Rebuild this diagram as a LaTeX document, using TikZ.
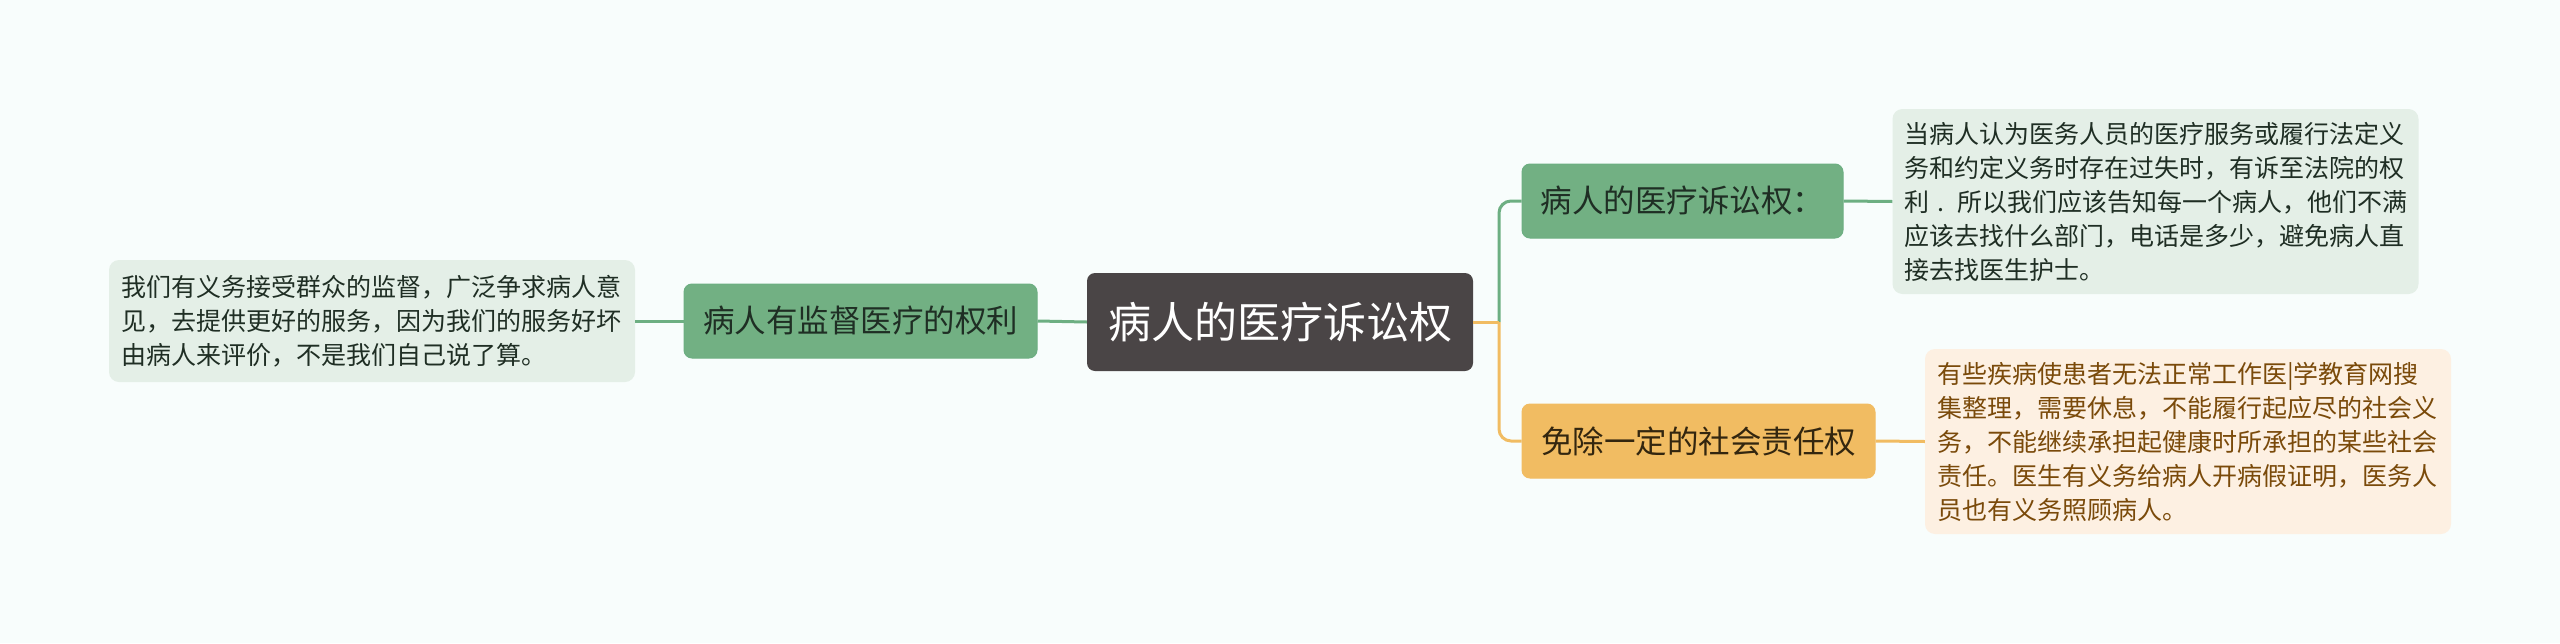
\documentclass[tikz,border=0pt]{standalone}
\usepackage{fontspec}
\setmainfont{Noto Sans CJK SC}
\definecolor{bg}{HTML}{F8FDFC}
\definecolor{rootfill}{HTML}{4A4546}
\definecolor{gnode}{HTML}{72B083}
\definecolor{gline}{HTML}{6DAF82}
\definecolor{gleaf}{HTML}{E4EFE7}
\definecolor{gtext}{HTML}{1F2E24}
\definecolor{onode}{HTML}{F1BC62}
\definecolor{oleaf}{HTML}{FDF0E2}
\definecolor{otext}{HTML}{7A4A0A}
\definecolor{ontext}{HTML}{33260F}
\begin{document}
\begin{tikzpicture}[x=1pt,y=-1pt,
  rootbox/.style={fill=rootfill, rounded corners=8pt, minimum width=386pt, minimum height=98pt, inner sep=0pt, text=white, font=\fontsize{43}{50}\selectfont},
  gbranch/.style={fill=gnode, draw=gline, line width=1pt, rounded corners=8pt, inner sep=0pt, text=gtext, font=\fontsize{31.5}{38}\selectfont, minimum height=74pt},
  obranch/.style={fill=onode, draw=onode, line width=1pt, rounded corners=8pt, inner sep=0pt, text=ontext, font=\fontsize{31.5}{38}\selectfont, minimum height=74pt},
  gleafbox/.style={fill=gleaf, rounded corners=10pt, inner xsep=12pt, inner ysep=0pt, text width=502pt, align=left, text=gtext, font=\fontsize{25}{34}\selectfont},
  oleafbox/.style={fill=oleaf, rounded corners=10pt, inner xsep=12pt, inner ysep=0pt, text width=502pt, align=left, text=otext, font=\fontsize{25}{34}\selectfont},
  glink/.style={draw=gline, line width=3pt},
  olink/.style={draw=onode, line width=3pt}
]
\fill[bg] (0,0) rectangle (2560,643);
\useasboundingbox (0,0) rectangle (2560,643);

\node[rootbox] (root) at (1280,322) {病人的医疗诉讼权};
\node[gbranch, minimum width=353pt] (lb) at (860.5,321) {病人有监督医疗的权利};
\node[gleafbox, minimum height=122pt] (ll) at (372,321) {我们有义务接受群众的监督，广泛争求病人意\\见，去提供更好的服务，因为我们的服务好坏\\由病人来评价，不是我们自己说了算。};
\node[gbranch, minimum width=321pt] (tb) at (1682.5,201) {病人的医疗诉讼权：};
\node[gleafbox, minimum height=185pt] (tl) at (2155.5,201.5) {当病人认为医务人员的医疗服务或履行法定义\\务和约定义务时存在过失时，有诉至法院的权\\利 . 所以我们应该告知每一个病人，他们不满\\应该去找什么部门，电话是多少，避免病人直\\接去找医生护士。};
\node[obranch, minimum width=353pt] (bb) at (1698.5,441) {免除一定的社会责任权};
\node[oleafbox, minimum height=185pt] (bl) at (2188,441.5) {有些疾病使患者无法正常工作医|学教育网搜\\集整理，需要休息，不能履行起应尽的社会义\\务，不能继续承担起健康时所承担的某些社会\\责任。医生有义务给病人开病假证明，医务人\\员也有义务照顾病人。};

\coordinate (j) at (1499,322);
\draw[glink] (root.west) -- (lb.east);
\draw[glink] (lb.west) -- (ll.east);
\draw[glink, rounded corners=12pt] (j) |- (tb.west);
\draw[olink, rounded corners=12pt] (j) |- (bb.west);
\draw[olink] (root.east) -- (j);
\draw[glink] (tb.east) -- (tl.west);
\draw[olink] (bb.east) -- (bl.west);
\end{tikzpicture}
\end{document}
